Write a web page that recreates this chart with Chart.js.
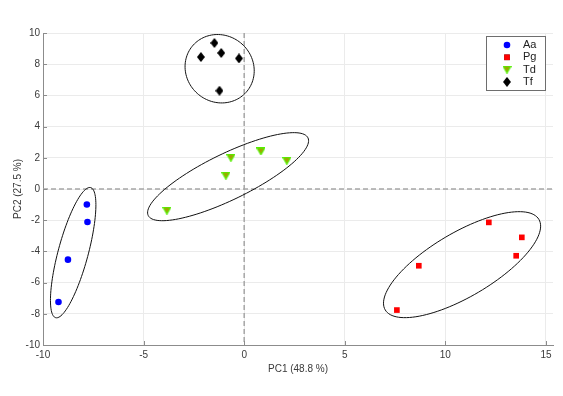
<!DOCTYPE html>
<html>
<head>
<meta charset="utf-8">
<script src="https://cdn.jsdelivr.net/npm/chart.js@4.4.1/dist/chart.umd.min.js"></script>
<style>
  body { margin: 0; background: #fff; }
  #wrap { width: 563px; height: 396px; }
</style>
</head>
<body>
<div id="wrap"><canvas id="pca" width="563" height="396"></canvas></div>
<script>
// scores
const aaX = [-7.82, -7.79, -8.76, -9.23];
const aaY = [-0.99, -2.12, -4.53, -7.24];
const pgX = [12.16, 13.80, 13.52, 8.68, 7.59];
const pgY = [-2.14, -3.10, -4.28, -4.92, -7.76];
const tdX = [-3.84, -0.91, -0.66, 0.83, 2.12];
const tdY = [-1.39, 0.85, 2.00, 2.41, 1.81];
const tfX = [-1.48, -2.15, -1.14, -0.26, -1.23];
const tfY = [9.36, 8.46, 8.72, 8.37, 6.30];

const groupNames = ["Aa", "Pg", "Td", "Tf"];

// ellipses: centre x, centre y, half-axis 1 (dx, dy), half-axis 2 (dx, dy)
const ellAa = [-8.50, -4.08, 0.87, 4.17, 0.72, -0.25];
const ellPg = [10.83, -4.85, 3.82, 2.90, 0.81, -1.77];
const ellTd = [-0.80, 0.79, 3.97, 2.49, 0.50, -1.33];
const ellTf = [-1.22, 7.71, 1.25, -1.60, 1.18, 1.50];

const xTicks = [-10, -5, 0, 5, 10, 15];
const yTicks = [-10, -8, -6, -4, -2, 0, 2, 4, 6, 8, 10];

const axisGray = "#8c8c8c";
const textGray = "#3a3a3a";

function toPoints(xs, ys) {
  return xs.map((x, i) => ({ x: x, y: ys[i] }));
}

// marker images
function diamondMarker() {
  const c = document.createElement("canvas");
  c.width = 8; c.height = 10;
  const g = c.getContext("2d");
  g.fillStyle = "#000";
  g.beginPath();
  g.moveTo(4, 0); g.lineTo(8, 5); g.lineTo(4, 10); g.lineTo(0, 5);
  g.closePath();
  g.fill();
  return c;
}

function triangleMarker() {
  const c = document.createElement("canvas");
  c.width = 9; c.height = 8;
  const g = c.getContext("2d");
  g.fillStyle = "#a3a300";
  g.strokeStyle = "#55ee00";
  g.lineWidth = 1.3;
  g.beginPath();
  g.moveTo(0.7, 0.7); g.lineTo(8.3, 0.7); g.lineTo(4.5, 7.3);
  g.closePath();
  g.fill();
  g.stroke();
  return c;
}

const triImg = triangleMarker();
const diaImg = diamondMarker();

const extras = {
  id: "extras",
  beforeDatasetsDraw(chart) {
    const { ctx, chartArea: a, scales: { x, y } } = chart;
    ctx.save();
    // dashed zero lines
    ctx.strokeStyle = "#a6a6a6";
    ctx.lineWidth = 1.5;
    ctx.setLineDash([5, 3]);
    ctx.beginPath();
    const x0 = x.getPixelForValue(0);
    const y0 = y.getPixelForValue(0);
    ctx.moveTo(x0, a.top); ctx.lineTo(x0, a.bottom);
    ctx.moveTo(a.left, y0); ctx.lineTo(a.right, y0);
    ctx.stroke();
    ctx.setLineDash([]);

    // inward tick marks
    ctx.strokeStyle = axisGray;
    ctx.lineWidth = 1;
    ctx.beginPath();
    xTicks.forEach(v => {
      const px = Math.round(x.getPixelForValue(v)) + 0.5;
      ctx.moveTo(px, a.bottom); ctx.lineTo(px, a.bottom - 4);
    });
    yTicks.forEach(v => {
      const py = Math.round(y.getPixelForValue(v)) + 0.5;
      ctx.moveTo(a.left, py); ctx.lineTo(a.left + 4, py);
    });
    ctx.stroke();

    // group ellipses
    ctx.strokeStyle = "#111";
    ctx.lineWidth = 1;
    [ellAa, ellPg, ellTd, ellTf].forEach(e => {
      ctx.beginPath();
      for (let i = 0; i <= 120; i++) {
        const t = (i / 120) * Math.PI * 2;
        const dx = e[0] + Math.cos(t) * e[2] + Math.sin(t) * e[4];
        const dy = e[1] + Math.cos(t) * e[3] + Math.sin(t) * e[5];
        const px = x.getPixelForValue(dx);
        const py = y.getPixelForValue(dy);
        if (i === 0) ctx.moveTo(px, py); else ctx.lineTo(px, py);
      }
      ctx.closePath();
      ctx.stroke();
    });
    ctx.restore();
  },
  afterDraw(chart) {
    const { ctx } = chart;
    ctx.save();
    // legend box
    ctx.fillStyle = "#fff";
    ctx.fillRect(486.5, 36.5, 59, 54);
    ctx.strokeStyle = "#6e6e6e";
    ctx.lineWidth = 1;
    ctx.strokeRect(486.5, 36.5, 59, 54);
    ctx.font = "11px 'Liberation Sans', Arial, sans-serif";
    ctx.textBaseline = "middle";
    chart.data.datasets.forEach((ds, i) => {
      const yy = 45 + i * 12.3;
      Chart.helpers.drawPoint(ctx, {
        pointStyle: ds.pointStyle,
        radius: ds.pointRadius,
        rotation: 0,
        borderWidth: ds.borderWidth || 0
      }, 507, yy);
      if (typeof ds.pointStyle === "string") {
        ctx.fillStyle = ds.backgroundColor;
        ctx.fill();
      }
      ctx.fillStyle = "#222";
      ctx.fillText(ds.label, 523, yy);
    });
    ctx.restore();
  }
};

new Chart(document.getElementById("pca"), {
  type: "scatter",
  data: {
    datasets: [
      {
        label: groupNames[0],
        data: toPoints(aaX, aaY),
        pointStyle: "circle",
        pointRadius: 3.3,
        backgroundColor: "#0000ff",
        borderColor: "#0000ff",
        borderWidth: 0
      },
      {
        label: groupNames[1],
        data: toPoints(pgX, pgY),
        pointStyle: "rect",
        pointRadius: 4,
        backgroundColor: "#ff0000",
        borderColor: "#ff0000",
        borderWidth: 0
      },
      {
        label: groupNames[2],
        data: toPoints(tdX, tdY),
        pointStyle: triImg,
        pointRadius: 5
      },
      {
        label: groupNames[3],
        data: toPoints(tfX, tfY),
        pointStyle: diaImg,
        pointRadius: 5
      }
    ]
  },
  options: {
    responsive: false,
    animation: false,
    events: [],
    layout: { padding: { top: 33, right: 10, left: 0, bottom: 0 } },
    plugins: {
      legend: { display: false },
      tooltip: { enabled: false }
    },
    scales: {
      x: {
        type: "linear",
        min: -10,
        max: 15.35,
        afterBuildTicks: s => { s.ticks = xTicks.map(v => ({ value: v })); },
        afterFit: s => { s.height = 51; },
        grid: { color: "#ebebeb", drawTicks: false },
        border: { color: axisGray },
        ticks: {
          padding: 4,
          color: textGray,
          font: { family: "'Liberation Sans', Arial, sans-serif", size: 10 }
        },
        title: {
          display: true,
          text: "PC1 (48.8 %)",
          color: textGray,
          padding: { top: 0, bottom: 21 },
          font: { family: "'Liberation Sans', Arial, sans-serif", size: 10 }
        }
      },
      y: {
        type: "linear",
        min: -10,
        max: 10,
        afterBuildTicks: s => { s.ticks = yTicks.map(v => ({ value: v })); },
        afterFit: s => { s.width = 43; },
        grid: { color: "#ebebeb", drawTicks: false },
        border: { color: axisGray },
        ticks: {
          padding: 3,
          color: textGray,
          font: { family: "'Liberation Sans', Arial, sans-serif", size: 10 }
        },
        title: {
          display: true,
          text: "PC2 (27.5 %)",
          color: textGray,
          padding: { top: 12, bottom: 0 },
          font: { family: "'Liberation Sans', Arial, sans-serif", size: 10 }
        }
      }
    }
  },
  plugins: [extras]
});
</script>
</body>
</html>
